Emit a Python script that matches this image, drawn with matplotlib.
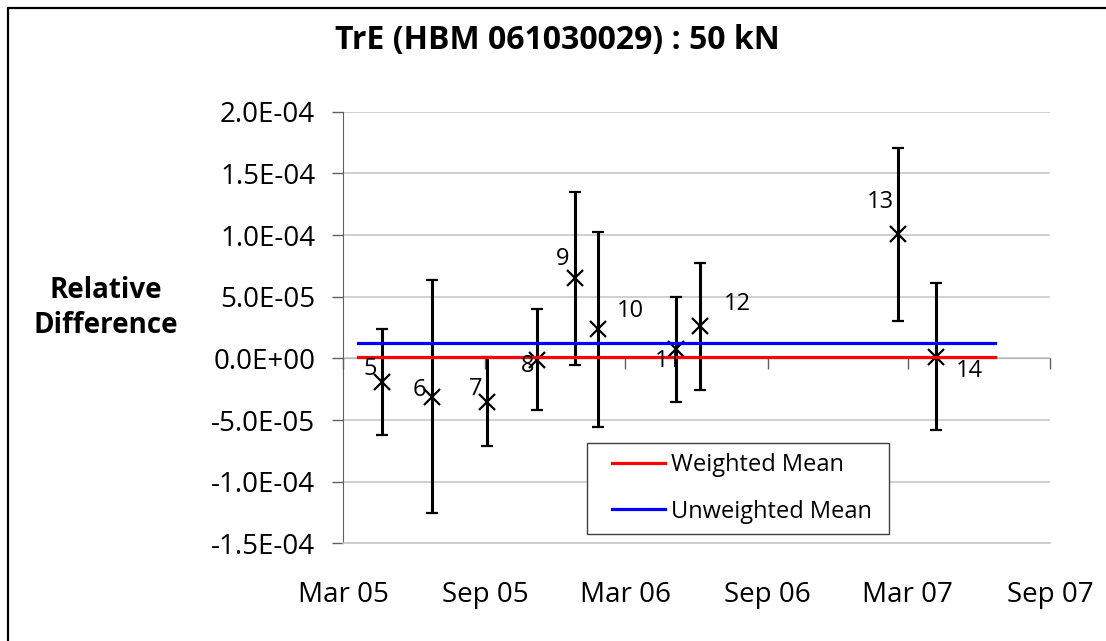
import datetime as dt

import matplotlib
matplotlib.use("Agg")
import matplotlib.pyplot as plt
import matplotlib.dates as mdates
from matplotlib.lines import Line2D
from matplotlib.legend_handler import HandlerLine2D
from matplotlib.patches import Rectangle

# measurement runs: label, date, relative difference, expanded uncertainty
run_labels = ["5", "6", "7", "8", "9", "10", "11", "12", "13", "14"]
run_dates = [
    dt.date(2005, 4, 21), dt.date(2005, 6, 24), dt.date(2005, 9, 3),
    dt.date(2005, 11, 7), dt.date(2005, 12, 26), dt.date(2006, 1, 25),
    dt.date(2006, 5, 6), dt.date(2006, 6, 6), dt.date(2007, 2, 16),
    dt.date(2007, 4, 6),
]
rel_diff = [-19.0e-6, -31.0e-6, -35.0e-6, -1.0e-6, 64.8e-6,
            23.5e-6, 7.5e-6, 26.0e-6, 100.6e-6, 1.3e-6]
uncert = [42.8e-6, 94.3e-6, 36.0e-6, 40.8e-6, 70.2e-6,
          78.9e-6, 42.5e-6, 51.6e-6, 69.9e-6, 59.5e-6]

# mean lines span
mean_dates = [dt.date(2005, 3, 20), dt.date(2007, 6, 22)]
weighted_mean = 1.1e-6
unweighted_mean = 12.4e-6

# label offsets in pixels (dx, dy)
label_offsets = [(-12, 13), (-13, 7), (-11, 13), (-10, -6), (-12, 19),
                 (32, 18), (-8, -12), (37, 22), (-17, 32), (34, -14)]

plt.rcParams["font.family"] = ["Open Sans", "DejaVu Sans"]

fig = plt.figure(figsize=(11.06, 6.41), dpi=100)
ax = fig.add_axes([0.3101, 0.1523, 0.6393, 0.6734])

ax.errorbar(run_dates, rel_diff, yerr=uncert, fmt="x", color="black",
            ecolor="black", markersize=11, markeredgewidth=1.6,
            elinewidth=2.2, capsize=4.3, capthick=2.2, zorder=3)

ax.plot(mean_dates, [weighted_mean] * 2, color="#ff0000", lw=2.3,
        label="Weighted Mean", zorder=4)
ax.plot(mean_dates, [unweighted_mean] * 2, color="#0000ff", lw=2.3,
        label="Unweighted Mean", zorder=4)

for lab, d, v, (dx, dy) in zip(run_labels, run_dates, rel_diff, label_offsets):
    ax.annotate(lab, (d, v), xytext=(dx, dy), textcoords="offset pixels",
                ha="center", va="center", fontsize=17, zorder=5)

ymin, ymax = -1.5e-4, 2.0e-4
ax.set_ylim(ymin, ymax)
ax.set_yticks([-1.5e-4, -1.0e-4, -5.0e-5, 0.0, 5.0e-5, 1.0e-4, 1.5e-4, 2.0e-4])
ax.set_yticklabels(["-1.5E-04", "-1.0E-04", "-5.0E-05", "0.0E+00",
                    "5.0E-05", "1.0E-04", "1.5E-04", "2.0E-04"])
ax.yaxis.grid(True, color="#c8c8c8", lw=1.2)
ax.set_axisbelow(True)

ax.set_xlim(dt.date(2005, 3, 1), dt.date(2007, 9, 1))
ax.xaxis.set_major_locator(mdates.MonthLocator(bymonth=(3, 9)))
ax.xaxis.set_major_formatter(mdates.DateFormatter("%b %y"))

ax.tick_params(axis="y", direction="out", length=8, width=1, color="#606060",
               labelsize=20, pad=12)
ax.tick_params(axis="x", length=0, labelsize=20, pad=27)

for side in ("top", "right"):
    ax.spines[side].set_visible(False)
ax.spines["left"].set_color("#606060")
ax.spines["bottom"].set_color("#c8c8c8")
ax.spines["bottom"].set_linewidth(1.2)

# zero line with date ticks, labels stay at the bottom
zero_axis = ax.secondary_xaxis((0 - ymin) / (ymax - ymin))
zero_axis.xaxis.set_major_locator(mdates.MonthLocator(bymonth=(3, 9)))
zero_axis.tick_params(direction="out", length=8, width=1, color="#606060",
                      labelbottom=False, labeltop=False)
zero_axis.spines["bottom"].set_color("#606060")

ax.legend(loc="lower left", bbox_to_anchor=(0.345, 0.021, 0.427, 0.213),
          mode="expand", borderaxespad=0, fontsize=17, fancybox=False,
          edgecolor="#404040", framealpha=1, handlelength=2.85,
          handletextpad=0.25, labelspacing=0.95, borderpad=0.45,
          handler_map={Line2D: HandlerLine2D(xpad=0.6)})

fig.text(557 / 1106, 1 - 40 / 641, "TrE (HBM 061030029) : 50 kN",
         ha="center", va="center", fontsize=23, fontweight="bold")
fig.text(106 / 1106, 1 - 308 / 641, "Relative\nDifference", ha="center",
         va="center", fontsize=20, fontweight="bold", linespacing=1.25)

# outer chart frame
fig.patches.append(Rectangle((8 / 1106, -0.5), 2, 1.5 - 8 / 641,
                             transform=fig.transFigure, fill=False,
                             edgecolor="black", lw=1.6))

fig.savefig("out.png", dpi=100)
